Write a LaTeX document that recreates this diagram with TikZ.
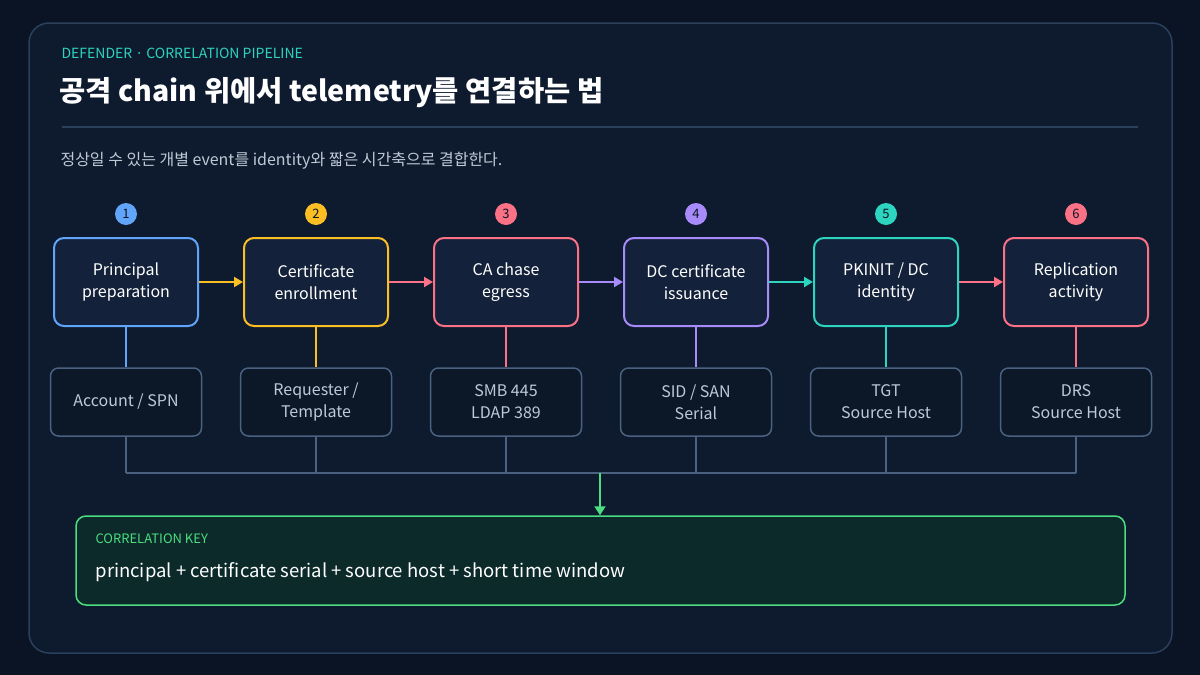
\documentclass[tikz,border=0pt]{standalone}
\usepackage{fontspec}
\setmainfont{Noto Sans CJK KR}
\usetikzlibrary{arrows.meta,positioning}

\definecolor{bgpage}{HTML}{0A1424}
\definecolor{bgpanel}{HTML}{0E1A2E}
\definecolor{panelline}{HTML}{2B405C}
\definecolor{stagefill}{HTML}{13223A}
\definecolor{evfill}{HTML}{0C1728}
\definecolor{evline}{HTML}{4A6180}
\definecolor{headteal}{HTML}{2DD4BF}
\definecolor{subgray}{HTML}{BFC9D6}
\definecolor{cblue}{HTML}{60A5FA}
\definecolor{cyellow}{HTML}{FBBF24}
\definecolor{cpink}{HTML}{FB7185}
\definecolor{cpurple}{HTML}{A78BFA}
\definecolor{cteal}{HTML}{2DD4BF}
\definecolor{cred}{HTML}{FB7185}
\definecolor{keygreen}{HTML}{4ADE80}
\definecolor{keyfill}{HTML}{0C2A2A}

\tikzset{
  stage/.style={draw=#1, line width=2pt, fill=stagefill, rounded corners=10pt,
    minimum width=144pt, minimum height=88pt, align=center, text=white,
    font=\fontsize{16}{22}\selectfont},
  event/.style={draw=evline, line width=1.5pt, fill=evfill, rounded corners=8pt,
    minimum width=151pt, minimum height=68pt, align=center, text=subgray,
    font=\fontsize{16}{22}\selectfont},
  badge/.style={circle, fill=#1, minimum size=22pt, inner sep=0pt, text=bgpage,
    font=\fontsize{13}{13}\selectfont},
  flow/.style={draw=#1, line width=2.5pt, -{Triangle[length=9pt,width=10pt]}},
  stem/.style={draw=#1, line width=2.5pt},
  bus/.style={draw=evline, line width=2pt},
}

\begin{document}
\begin{tikzpicture}[x=1pt,y=-1pt]
\fill[bgpage] (0,0) rectangle (1200,675);
\useasboundingbox (0,0) rectangle (1200,675);
\draw[panelline, line width=1.5pt, fill=bgpanel, rounded corners=20pt] (29,23) rectangle (1172,653);

% header
\node[anchor=west, text=headteal, font=\fontsize{14}{14}\selectfont] (kicker) at (58,53) {DEFENDER · CORRELATION PIPELINE};
\node[anchor=west, text=white, font=\bfseries\fontsize{28.5}{28.5}\selectfont] (title) at (56,93) {공격 chain 위에서 telemetry를 연결하는 법};
\draw[panelline, line width=1.5pt] (62,127) -- (1138,127);
\node[anchor=west, text=subgray, font=\fontsize{16}{16}\selectfont] (sub) at (57,161) {정상일 수 있는 개별 event를 identity와 짧은 시간축으로 결합한다.};

% stages
\foreach \i/\x/\c/\t/\e in {
  1/126/cblue/{Principal\\preparation}/{Account / SPN},
  2/316/cyellow/{Certificate\\enrollment}/{Requester /\\Template},
  3/506/cpink/{CA chase\\egress}/{SMB 445\\LDAP 389},
  4/696/cpurple/{DC certificate\\issuance}/{SID / SAN\\Serial},
  5/886/cteal/{PKINIT / DC\\identity}/{TGT\\Source Host},
  6/1076/cred/{Replication\\activity}/{DRS\\Source Host}} {
  \node[badge=\c] (b\i) at (\x,214) {\i};
  \node[stage=\c] (s\i) at (\x,282) {\t};
  \node[event] (e\i) at (\x,402) {\e};
  \draw[stem=\c] (s\i) -- (e\i);
  \coordinate (j\i) at (\x,473);
  \draw[bus] (e\i.south) -- (j\i);
}

\draw[flow=cyellow] (s1) -- (s2);
\draw[flow=cpink] (s2) -- (s3);
\draw[flow=cpurple] (s3) -- (s4);
\draw[flow=cteal] (s4) -- (s5);
\draw[flow=cred] (s5) -- (s6);
\draw[bus] (j1) -- (j6);

% correlation key
\node[draw=keygreen, line width=1.5pt, fill=keyfill, rounded corners=10pt,
  minimum width=1049pt, minimum height=89pt] (key) at (600.5,560.5) {};
\node[anchor=west, text=keygreen, font=\fontsize{13}{13}\selectfont] (keylab) at (92,539) {CORRELATION KEY};
\node[anchor=west, text=white, font=\fontsize{18.5}{18.5}\selectfont] (keytxt) at (92,572) {principal + certificate serial + source host + short time window};
\coordinate (jm) at (600,473);
\draw[draw=keygreen, line width=2pt, -{Triangle[length=9pt,width=11pt]}] (jm) -- (key.north -| jm);
\end{tikzpicture}
\end{document}
